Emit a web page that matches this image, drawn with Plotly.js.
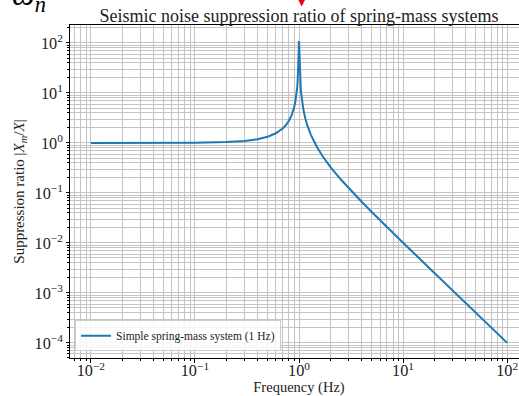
<!DOCTYPE html>
<html>
<head>
<meta charset="utf-8">
<script src="https://cdn.plot.ly/plotly-3.0.1.min.js"></script>
<style>
html,body{margin:0;padding:0;overflow:hidden;background:#fff;}
#chart{width:540px;height:396px;}
</style>
</head>
<body>
<div id="chart"></div>
<script>
// Frequency (Hz) sample points
var frequency = [0.01, 0.02, 0.05, 0.1, 0.2, 0.3, 0.4, 0.5, 0.6, 0.7, 0.75, 0.8, 0.85, 0.88, 0.9, 0.92, 0.94, 0.95, 0.96, 0.97, 0.98, 0.985, 0.99, 0.995, 1.0, 1.005, 1.01, 1.015, 1.02, 1.03, 1.04, 1.05, 1.06, 1.08, 1.1, 1.15, 1.2, 1.3, 1.4, 1.5, 1.7, 2, 2.5, 3, 4, 5, 7, 10, 20, 30, 50, 70, 100];
// Suppression ratio |Xm/X|
var ratio = [1.0, 1.0, 1.0025, 1.01, 1.042, 1.099, 1.19, 1.333, 1.5625, 1.961, 2.286, 2.778, 3.604, 4.433, 5.263, 6.51, 8.59, 10.26, 12.76, 16.9, 25.0, 33.0, 45.0, 71.0, 110.0, 70.0, 44.5, 31.4, 24.0, 16.2, 12.2, 9.7, 8.08, 6.0, 4.76, 3.10, 2.27, 1.449, 1.042, 0.8, 0.529, 0.333, 0.19, 0.125, 0.0667, 0.0417, 0.0208, 0.0101, 0.00251, 0.00111, 0.0004, 0.000204, 0.0001];
var seriesName = 'Simple spring-mass system (1 Hz)';
var chartTitle = 'Seismic noise suppression ratio of spring-mass systems';
var xTitle = 'Frequency (Hz)';
var yTitle = 'Suppression ratio |<i>X<sub>m</sub></i>/<i>X</i>|';
var decadeAlias = {'1': '10<sup>0</sup>', '10': '10<sup>1</sup>'};

var serif = 'Liberation Serif, DejaVu Serif, serif';
var gridColor = '#c4c4c4';

var trace = {
  x: frequency, y: ratio, type: 'scatter', mode: 'lines',
  name: seriesName,
  line: {color: '#1f77b4', width: 2}
};

var axisCommon = {
  type: 'log',
  showline: true, mirror: true, linecolor: '#000', linewidth: 1,
  ticks: 'outside', ticklen: 3.5, tickwidth: 1, tickcolor: '#000',
  dtick: 1, exponentformat: 'power', labelalias: decadeAlias,
  showgrid: true, gridcolor: gridColor, gridwidth: 1,
  zeroline: false,
  tickfont: {family: serif, size: 13, color: '#222'},
  minor: {ticks: 'outside', ticklen: 2, tickcolor: '#000', showgrid: true, gridcolor: gridColor, gridwidth: 1}
};

var layout = {
  width: 540, height: 396,
  margin: {l: 70, r: 12, t: 25, b: 38},
  paper_bgcolor: '#fff', plot_bgcolor: '#fff',
  title: {text: chartTitle, font: {family: serif, size: 18, color: '#222'}, x: 0.5, xref: 'paper', xanchor: 'center', y: 1, yref: 'paper', yanchor: 'bottom', pad: {b: 3}},
  xaxis: Object.assign({}, axisCommon, {
    range: [-2.2, 2.2],
    ticklabelstandoff: -5,
    title: {text: xTitle, font: {family: serif, size: 14.5, color: '#222'}, standoff: 2}
  }),
  yaxis: Object.assign({}, axisCommon, {
    range: [-4.302, 2.36],
    title: {text: yTitle, font: {family: serif, size: 15, color: '#222'}, standoff: 6}
  }),
  showlegend: true,
  legend: {
    x: 0.011, y: 0.02, xanchor: 'left', yanchor: 'bottom',
    bgcolor: 'rgba(255,255,255,0.85)', bordercolor: '#cccccc', borderwidth: 1,
    font: {family: serif, size: 11.5, color: '#222'}
  },
  annotations: [
    {xref: 'paper', yref: 'paper', x: -0.17, y: 1.085, xanchor: 'left', yanchor: 'middle',
     text: '−<i>ω</i><sub><i>n</i></sub>', showarrow: false,
     font: {family: serif, size: 32, color: '#000'}},
    {xref: 'paper', yref: 'paper', x: 0.5066, y: 1.083, xanchor: 'center', yanchor: 'middle',
     text: '▼', showarrow: false, font: {family: 'DejaVu Sans', size: 20, color: '#e8000b'}}
  ]
};

Plotly.newPlot('chart', [trace], layout, {displayModeBar: false, staticPlot: true});
</script>
</body>
</html>
